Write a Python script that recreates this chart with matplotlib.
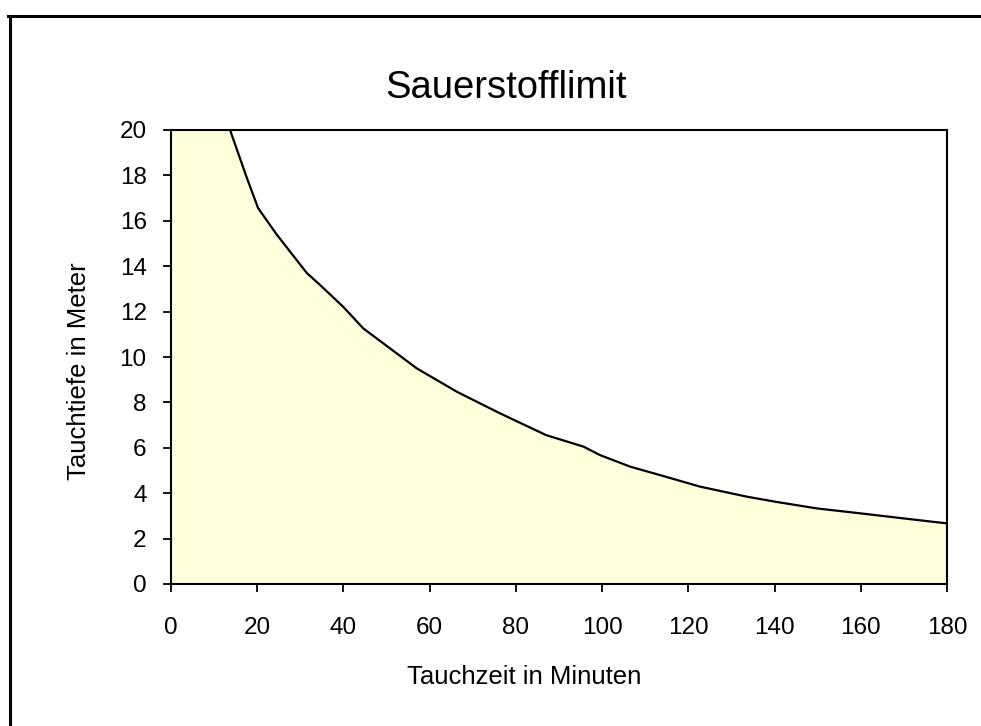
import matplotlib
matplotlib.use('Agg')
import matplotlib.pyplot as plt
from matplotlib.lines import Line2D

plt.rcParams['font.family'] = ['Liberation Sans', 'DejaVu Sans']

# Tauchzeit (min) und Sauerstofflimit-Tiefe (m)
minutes = [0, 13.7, 17.5, 20.2, 24.5, 31.5, 34.6, 40, 44.6, 50.8, 57, 66.3,
           76.3, 87, 95.7, 99.5, 106.5, 113.4, 122.7, 133.5, 140, 149.8,
           160, 169.9, 180]
depth = [27.4, 20, 17.94, 16.56, 15.4, 13.7, 13.17, 12.2, 11.26, 10.38, 9.5, 8.47,
         7.52, 6.56, 6.05, 5.68, 5.17, 4.80, 4.29, 3.85, 3.63, 3.33,
         3.11, 2.89, 2.67]

x_ticks = [0, 20, 40, 60, 80, 100, 120, 140, 160, 180]
y_ticks = [0, 2, 4, 6, 8, 10, 12, 14, 16, 18, 20]

W, H = 981, 726
fig = plt.figure(figsize=(W / 100, H / 100), dpi=100)
ax = fig.add_axes([171 / W, 1 - 584 / H, (947 - 171) / W, (584 - 130) / H])

ax.fill_between(minutes, depth, 0, color='#FFFFDC', linewidth=0)
ax.plot(minutes, depth, color='black', linewidth=1.6)

ax.set_xlim(0, 180)
ax.set_ylim(0, 20)
ax.set_xticks(x_ticks)
ax.set_yticks(y_ticks)
ax.tick_params(direction='out', length=5.5, width=1.3, labelsize=17.5, colors='black')
ax.tick_params(axis='x', pad=18)
ax.tick_params(axis='y', pad=12)
for s in ax.spines.values():
    s.set_linewidth(1.5)

fig.text(505.5 / W, 1 - 98 / H, 'Sauerstofflimit', ha='center', va='baseline', fontsize=27.5)
fig.text(524 / W, 1 - 684 / H, 'Tauchzeit in Minuten', ha='center', va='baseline', fontsize=18.5)
fig.text(79 / W, 1 - 371 / H, 'Tauchtiefe in Meter', ha='center', va='center',
         rotation=90, fontsize=18.5)

# Rahmen des Diagramms (nur links und oben sichtbar)
fig.add_artist(Line2D([9.8 / W, 9.8 / W], [0, 1 - 15.8 / H], transform=fig.transFigure,
                      color='black', linewidth=2.2))
fig.add_artist(Line2D([8.3 / W, 1], [1 - 15.8 / H, 1 - 15.8 / H], transform=fig.transFigure,
                      color='black', linewidth=2.2))

fig.savefig('out.png', dpi=100)
